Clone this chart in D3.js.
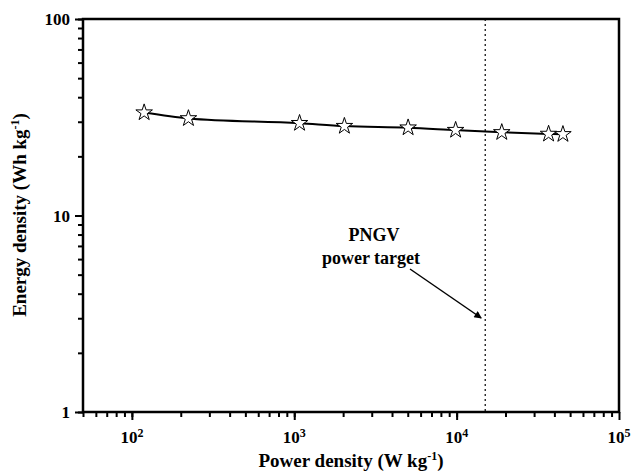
<!DOCTYPE html>
<html><head><meta charset="utf-8">
<script src="https://cdn.jsdelivr.net/npm/d3@7"></script>
<style>body{margin:0;background:#fff}svg{display:block;font-family:"Liberation Serif","Times New Roman",serif;font-weight:bold}text{fill:#000}</style>
</head><body><svg id="c" width="641" height="474"></svg>
<script>
const powerDensity = [119, 223, 1078, 2036, 5026, 9860, 18970, 36840, 45150];
const energyDensity = [33.4, 31.2, 29.5, 28.5, 28.0, 27.2, 26.5, 26.0, 25.9];
const xMajorTicks = [100, 1000, 10000, 100000];
const yMajorTicks = [1, 10, 100];
const pngvTarget = 15000;
const annotation = ["PNGV", "power target"];

const svg = d3.select("#c");
const L = 83, R = 619, T = 19, B = 412;
const x = d3.scaleLog().domain([50, 1e5]).range([L, R]);
const y = d3.scaleLog().domain([1, 100]).range([B, T]);

const xMinor = [];
for (let e = 1; e <= 4; e++) for (let m = 1; m < 10; m++) { const v = m * Math.pow(10, e); if (v >= 50 && v <= 1e5) xMinor.push(v); }
const yMinor = [];
for (let e = 0; e <= 1; e++) for (let m = 1; m < 10; m++) yMinor.push(m * Math.pow(10, e));
yMinor.push(100);

const xAxisMinor = d3.axisBottom(x).tickValues(xMinor).tickSize(5).tickFormat("");
const xAxisMajor = d3.axisBottom(x).tickValues(xMajorTicks).tickSize(8).tickFormat("");
const yAxisMinor = d3.axisLeft(y).tickValues(yMinor).tickSize(5).tickFormat("");
const yAxisMajor = d3.axisLeft(y).tickValues(yMajorTicks).tickSize(8).tickPadding(5).tickFormat(d3.format("d"));

function style(g){ g.select(".domain").remove(); g.selectAll("line").attr("stroke","#000").attr("stroke-width",2); g.selectAll("text").attr("fill","#000"); }
svg.append("g").attr("transform",`translate(0,${B})`).call(xAxisMinor).call(style);
svg.append("g").attr("transform",`translate(0,${B})`).call(xAxisMajor).call(style);
svg.append("g").attr("transform",`translate(${L},0)`).call(yAxisMinor).call(style);
svg.append("g").attr("transform",`translate(${L},0)`).call(yAxisMajor).call(style)
  .selectAll("text").attr("font-size",17).attr("font-family","Liberation Serif").attr("font-weight","bold").attr("dy","0.35em");

// x tick labels with superscripts
const xl = svg.append("g").selectAll("text").data(xMajorTicks).join("text")
  .attr("x", d => x(d)).attr("y", 443).attr("text-anchor","middle").attr("font-size",17).attr("fill","#000");
xl.append("tspan").text("10");
xl.append("tspan").attr("font-size",12).attr("dy",-6).text(d => String(Math.round(Math.log10(d))));

// frame
svg.append("rect").attr("x",L).attr("y",T).attr("width",R-L).attr("height",B-T)
  .attr("fill","none").attr("stroke","#000").attr("stroke-width",2.5);

// PNGV dotted line
svg.append("line").attr("x1",x(pngvTarget)).attr("x2",x(pngvTarget)).attr("y1",T).attr("y2",B)
  .attr("stroke","#000").attr("stroke-width",1.2).attr("stroke-dasharray","2,3");

// data line
const pts = powerDensity.map((p,i)=>[p, energyDensity[i]]);
svg.append("path").datum(pts)
  .attr("d", d3.line().x(d=>x(d[0])).y(d=>y(d[1])).curve(d3.curveMonotoneX))
  .attr("fill","none").attr("stroke","#000").attr("stroke-width",2);

// stars
const star = d3.symbol().type(d3.symbolStar).size(85);
svg.selectAll(".pt").data(pts).join("path")
  .attr("transform", d=>`translate(${x(d[0])},${y(d[1])})`)
  .attr("d", star).attr("fill","#fff").attr("stroke","#000").attr("stroke-width",1);

// annotation
svg.append("text").attr("x",374).attr("y",241).attr("text-anchor","middle").attr("font-size",18).text(annotation[0]);
svg.append("text").attr("x",371).attr("y",264).attr("text-anchor","middle").attr("font-size",18).text(annotation[1]);
svg.append("defs").append("marker").attr("id","ah").attr("viewBox","0 0 10 10").attr("refX",9).attr("refY",5)
  .attr("markerWidth",6).attr("markerHeight",5).attr("orient","auto")
  .append("path").attr("d","M0,0L10,5L0,10Z").attr("fill","#000");
svg.append("line").attr("x1",410).attr("y1",269).attr("x2",x(pngvTarget)-4).attr("y2",318)
  .attr("stroke","#000").attr("stroke-width",1.5).attr("marker-end","url(#ah)");

// axis titles
const xt = svg.append("text").attr("x",351).attr("y",467).attr("text-anchor","middle").attr("font-size",19).attr("fill","#000");
xt.append("tspan").text("Power density (W kg");
xt.append("tspan").attr("font-size",12).attr("dy",-7).text("-1");
xt.append("tspan").attr("dy",7).text(")");
const yt = svg.append("text").attr("transform","translate(26,215) rotate(-90)").attr("text-anchor","middle").attr("font-size",19).attr("fill","#000");
yt.append("tspan").text("Energy density (Wh kg");
yt.append("tspan").attr("font-size",12).attr("dy",-7).text("-1");
yt.append("tspan").attr("dy",7).text(")");
</script></body></html>
